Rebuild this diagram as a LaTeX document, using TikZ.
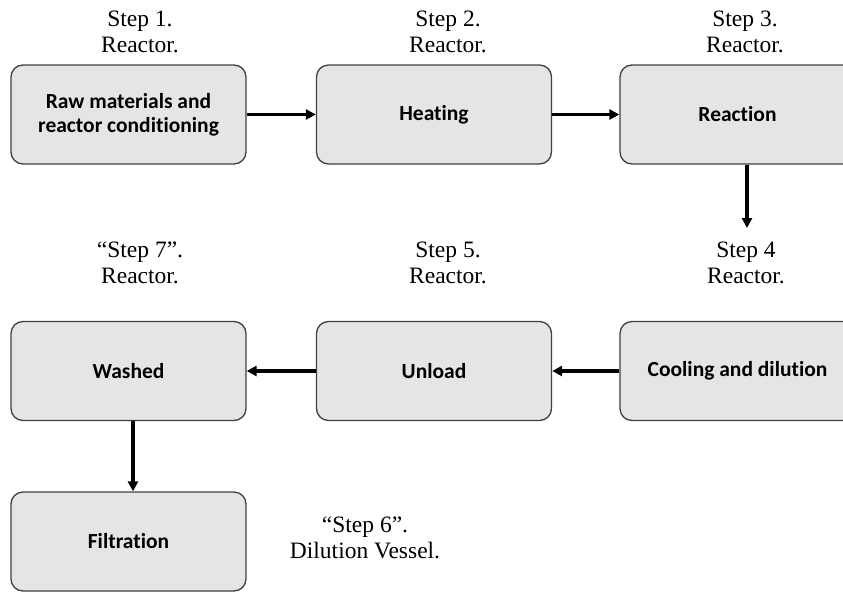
\documentclass[tikz,border=0pt]{standalone}
\usepackage{fontspec}
\setmainfont{Liberation Serif}
\newfontfamily\boxfont[Ligatures=NoCommon]{Carlito}
\usetikzlibrary{arrows.meta,positioning}

\tikzset{
    stage/.style={draw=black!75, line width=1.3pt, fill=black!10, rounded corners=12pt,
        minimum width=235pt, minimum height=99pt, inner sep=0pt, align=center,
        font=\boxfont\bfseries\fontsize{21.5}{24}\selectfont},
    steplabel/.style={anchor=south, inner sep=0pt, align=center,
        font=\fontsize{23.5}{26}\selectfont},
    flow/.style={line width=3.2pt, -{Triangle[length=10pt,width=10pt]}}
}

\begin{document}
\begin{tikzpicture}[x=1pt, y=-1pt]
        % Define page frame
        \useasboundingbox (0,0) rectangle (843,592);
        \clip (0,0) rectangle (843,592);

        % Define process stages
        \node[stage] (raw) at (128.5,114.5) {Raw materials and\\reactor conditioning};
        \node[stage] (heat) at (434,114.5) {Heating};
        \node[stage] (react) at (737.5,114.5) {Reaction};
        \node[stage] (cool) at (737.5,371) {Cooling and dilution};
        \node[stage] (unload) at (434,371) {Unload};
        \node[stage] (wash) at (128.5,371) {Washed};
        \node[stage] (filt) at (128.5,541.5) {Filtration};

        % Define step labels
        \foreach \x/\y/\text in
        {
            140/53/Step 1.\\Reactor.,
            448/53/Step 2.\\Reactor.,
            745/53/Step 3.\\Reactor.,
            746/284/Step 4\\Reactor.,
            448/284/Step 5.\\Reactor.,
            140/284/“Step 7”.\\Reactor.,
            365/559/“Step 6”.\\Dilution Vessel.
        } {
        \node[steplabel] at (\x,\y) {\text};
        }

        % Define flow arrows
        \coordinate (drop) at (747,228);
        \draw[flow] (raw) -- (heat);
        \draw[flow] (heat) -- (react);
        \draw[flow] (react.south -| drop) -- (drop);
        \draw[flow] (cool) -- (unload);
        \draw[flow] (unload) -- (wash);
        \draw[flow] ([xshift=4.5pt]wash.south) -- ([xshift=4.5pt]filt.north);
    \end{tikzpicture}
\end{document}
